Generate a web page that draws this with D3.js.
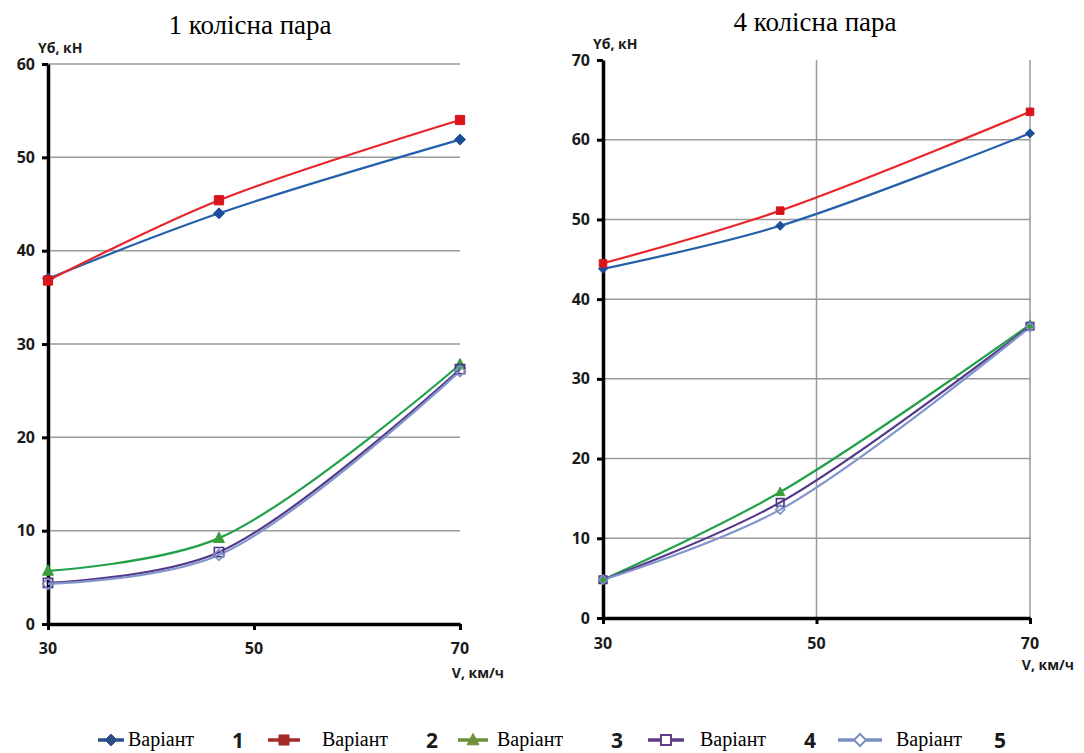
<!DOCTYPE html>
<html>
<head>
<meta charset="utf-8">
<script src="https://cdn.jsdelivr.net/npm/d3@7"></script>
<style>
  body { margin: 0; background: #fff; }
  svg { display: block; }
</style>
</head>
<body>
<div id="chart"></div>
<script>
// speeds, km/h (middle point sits a bit before 50)
const speeds = [30, 46.6, 70];

// left panel: 1 колісна пара
const left1 = [37.0, 44.0, 51.9];
const left2 = [36.8, 45.4, 54.0];
const left3 = [5.7, 9.2, 27.8];
const left4 = [4.4, 7.7, 27.3];
const left5 = [4.3, 7.4, 27.1];

// right panel: 4 колісна пара
const right1 = [43.8, 49.2, 60.8];
const right2 = [44.5, 51.1, 63.5];
const right3 = [4.8, 15.8, 36.8];
const right4 = [4.8, 14.5, 36.6];
const right5 = [4.8, 13.6, 36.5];

const xTicks = [30, 50, 70];
const leftYTicks = [0, 10, 20, 30, 40, 50, 60];
const rightYTicks = [0, 10, 20, 30, 40, 50, 60, 70];
const legendNames = ['1', '2', '3', '4', '5'];

const styles = [
  { line: '#2461aa', mark: '#1d4f98', legend: '#2b4f86', shape: 'diamond', fill: true },
  { line: '#e8262a', mark: '#d8141c', legend: '#a42a2a', shape: 'square', fill: true },
  { line: '#23a04a', mark: '#3a9e3a', legend: '#6f8f3a', shape: 'triangle', fill: true },
  { line: '#55388a', mark: '#4c3284', legend: '#5e3d86', shape: 'square', fill: false },
  { line: '#8396cc', mark: '#7b8fc6', legend: '#7a8fc2', shape: 'diamond', fill: false }
];

const W = 1084, H = 753;
const svg = d3.select('#chart').append('svg').attr('width', W).attr('height', H);
const serif = '"Liberation Serif", "Times New Roman", "DejaVu Serif", serif';
const sans = '"Open Sans", "Liberation Sans", sans-serif';

const panels = [
  { title: '1 колісна пара', titleX: 250, titleY: 34, x0: 48, x1: 460, y0: 624, y1: 64,
    yMax: 60, yTicks: leftYTicks, series: [left1, left2, left3, left4, left5],
    vGrid: false, topGrid: true, mark: 11, xLabY: 654, vLabY: 678 },
  { title: '4 колісна пара', titleX: 815, titleY: 31, x0: 603, x1: 1030, y0: 618, y1: 60,
    yMax: 70, yTicks: rightYTicks, series: [right1, right2, right3, right4, right5],
    vGrid: true, topGrid: false, mark: 9, xLabY: 649, vLabY: 670 }
];

function symbolPath(shape, size) {
  const s = size;
  if (shape === 'diamond') return `M0,${-s / 2}L${s / 2},0L0,${s / 2}L${-s / 2},0Z`;
  if (shape === 'square') return `M${-s * 0.42},${-s * 0.42}h${s * 0.84}v${s * 0.84}h${-s * 0.84}Z`;
  return `M0,${-s * 0.55}L${s * 0.5},${s * 0.4}L${-s * 0.5},${s * 0.4}Z`;
}

panels.forEach((p) => {
  const x = d3.scaleLinear().domain([30, 70]).range([p.x0, p.x1]);
  const y = d3.scaleLinear().domain([0, p.yMax]).range([p.y0, p.y1]);
  const g = svg.append('g');

  g.append('text')
    .attr('x', p.titleX).attr('y', p.titleY)
    .attr('text-anchor', 'middle')
    .attr('font-family', serif)
    .style('font-size', '27px')
    .text(p.title);

  // horizontal grid
  g.selectAll('.hgrid')
    .data(p.yTicks.filter((t) => t > 0 && (p.topGrid || t < p.yMax)))
    .enter().append('line')
      .attr('x1', p.x0).attr('x2', p.x1)
      .attr('y1', (d) => y(d)).attr('y2', (d) => y(d))
      .attr('stroke', '#9a9a9a').attr('stroke-width', 1.5);

  if (p.vGrid) {
    g.selectAll('.vgrid')
      .data(xTicks.filter((t) => t > 30))
      .enter().append('line')
        .attr('x1', (d) => x(d)).attr('x2', (d) => x(d))
        .attr('y1', p.y1).attr('y2', p.y0)
        .attr('stroke', '#9a9a9a').attr('stroke-width', 1.5);
  }

  // axes
  const yAxis = d3.axisLeft(y).tickValues(p.yTicks).tickSize(6).tickSizeOuter(0).tickPadding(7);
  const xAxis = d3.axisBottom(x).tickValues(xTicks).tickSize(6).tickSizeOuter(0).tickFormat(() => '');

  const ya = g.append('g').attr('transform', `translate(${p.x0},0)`).call(yAxis);
  const xa = g.append('g').attr('transform', `translate(0,${p.y0})`).call(xAxis);
  [ya, xa].forEach((a) => {
    a.select('.domain').attr('stroke', '#000').attr('stroke-width', 3.5);
    a.selectAll('.tick line').attr('stroke', '#000').attr('stroke-width', 3);
  });
  ya.selectAll('.tick text')
    .attr('font-family', sans)
    .style('font-weight', 700).style('font-size', '16px').attr('fill', '#1a1a1a');

  g.selectAll('.xlab')
    .data(xTicks)
    .enter().append('text')
      .attr('x', (d) => x(d)).attr('y', p.xLabY)
      .attr('text-anchor', 'middle')
      .attr('font-family', sans)
      .style('font-weight', 700).style('font-size', '16px').attr('fill', '#1a1a1a')
      .text((d) => d);

  g.append('text')
    .attr('x', p.x0 - 10).attr('y', p.y1 - 11)
    .attr('font-family', sans)
    .style('font-weight', 700).style('font-size', '14px').attr('fill', '#1a1a1a')
    .text('Yб, кН');

  g.append('text')
    .attr('x', p.x1 + 44).attr('y', p.vLabY)
    .attr('text-anchor', 'end')
    .attr('font-family', sans)
    .style('font-weight', 700).style('font-size', '14px').attr('fill', '#1a1a1a')
    .text('V, км/ч');

  const line = d3.line()
    .x((d, i) => x(speeds[i]))
    .y((d) => y(d))
    .curve(d3.curveCatmullRom.alpha(0.5));

  p.series.forEach((vals, k) => {
    const st = styles[k];
    g.append('path')
      .attr('d', line(vals))
      .attr('fill', 'none')
      .attr('stroke', st.line)
      .attr('stroke-width', 2.2);
  });

  p.series.forEach((vals, k) => {
    const st = styles[k];
    g.selectAll(null)
      .data(vals)
      .enter().append('path')
        .attr('transform', (d, i) => `translate(${x(speeds[i])},${y(d)})`)
        .attr('d', symbolPath(st.shape, p.mark))
        .attr('fill', st.fill ? st.mark : 'none')
        .attr('stroke', st.mark)
        .attr('stroke-width', st.fill ? 1 : 1.6);
  });
});

// legend
const legendX = [98, 268, 458, 648, 838];
const legendLen = [26, 32, 30, 36, 44];
const legendText = [128, 322, 497, 700, 896];
const legendNum = [238, 432, 617, 810, 1000];
const ly = 740;
const leg = svg.append('g');
legendNames.forEach((n, k) => {
  const st = styles[k];
  const x0 = legendX[k], x1 = x0 + legendLen[k];
  leg.append('line')
    .attr('x1', x0).attr('x2', x1).attr('y1', ly).attr('y2', ly)
    .attr('stroke', st.legend).attr('stroke-width', 3.5);
  leg.append('path')
    .attr('transform', `translate(${(x0 + x1) / 2},${ly})`)
    .attr('d', symbolPath(st.shape, 12))
    .attr('fill', st.fill ? st.legend : '#fff')
    .attr('stroke', st.legend)
    .attr('stroke-width', st.fill ? 1 : 2);
  leg.append('text')
    .attr('x', legendText[k]).attr('y', ly + 6)
    .attr('font-family', serif)
    .style('font-size', '20px')
    .text('Варіант');
  leg.append('text')
    .attr('x', legendNum[k]).attr('y', ly + 8)
    .attr('text-anchor', 'middle')
    .attr('font-family', sans)
    .style('font-weight', 700).style('font-size', '21px').attr('fill', '#1a1a1a')
    .text(n);
});
</script>
</body>
</html>
